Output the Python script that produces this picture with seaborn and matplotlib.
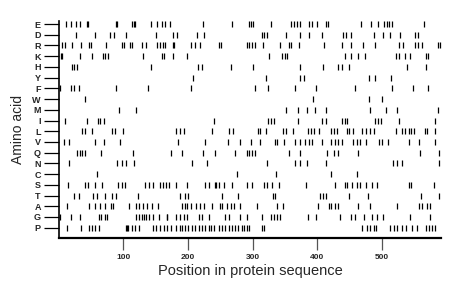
import matplotlib
matplotlib.use("Agg")
import matplotlib.pyplot as plt
import seaborn as sns
import pandas as pd

# amino acids, top to bottom
amino_acids = ["E", "D", "R", "K", "H", "Y", "F", "W", "M", "I",
               "L", "V", "Q", "N", "C", "S", "T", "A", "G", "P"]

# residue positions for each amino acid
pos_E = [11, 18, 26, 33, 44, 45, 88, 90, 113, 116, 118, 143, 152, 159, 165, 172, 223, 268,
         295, 298, 300, 328, 360, 364, 369, 374, 387, 392, 400, 414, 417, 468, 484, 494,
         504, 508, 512, 516, 565]
pos_D = [27, 56, 79, 86, 104, 150, 176, 183, 214, 225, 314, 317, 322, 352, 373, 388, 407,
         440, 444, 452, 488, 502, 513, 529, 552, 556]
pos_R = [5, 9, 20, 35, 47, 50, 73, 97, 101, 110, 113, 128, 135, 152, 156, 161, 165, 176,
         179, 204, 211, 218, 248, 251, 291, 295, 299, 304, 316, 342, 356, 360, 372, 410,
         439, 453, 471, 489, 527, 533, 552, 556, 562, 587, 591]
pos_K = [4, 5, 32, 51, 68, 72, 76, 130, 159, 163, 177, 199, 326, 346, 350, 353, 443, 453,
         464, 474, 522, 526, 536, 543, 568, 572]
pos_H = [21, 24, 28, 142, 216, 222, 266, 300, 374, 409, 433, 439, 450, 539, 569]
pos_Y = [208, 321, 373, 379, 480, 490, 515]
pos_F = [1, 18, 24, 31, 89, 138, 205, 303, 324, 365, 398, 459, 516, 548, 572]
pos_W = [40, 393, 481, 500]
pos_M = [93, 119, 352, 370, 384, 397, 413, 482, 506, 524, 587]
pos_I = [10, 44, 60, 64, 70, 240, 324, 328, 333, 370, 407, 413, 439, 443, 446, 489, 494,
         499, 527, 582]
pos_L = [36, 41, 52, 83, 87, 99, 182, 188, 193, 237, 263, 269, 309, 312, 321, 347, 352,
         362, 386, 390, 395, 403, 422, 426, 431, 446, 450, 455, 470, 476, 482, 488, 522,
         531, 536, 542, 545, 550, 567, 570, 583]
pos_V = [8, 15, 56, 70, 94, 185, 226, 262, 281, 298, 312, 334, 338, 348, 366, 373, 381,
         388, 392, 408, 422, 427, 433, 438, 455, 462, 467, 475, 496, 501, 510, 542, 557, 582]
pos_Q = [28, 32, 36, 40, 65, 115, 173, 190, 223, 242, 273, 292, 295, 299, 304, 356, 374,
         415, 426, 433, 464, 560, 588]
pos_N = [15, 90, 97, 104, 116, 206, 230, 323, 365, 374, 384, 413, 517, 524, 531, 588]
pos_C = [59, 276, 336, 421, 462]
pos_S = [14, 40, 45, 56, 67, 92, 97, 102, 134, 139, 146, 156, 161, 166, 171, 182, 199, 226,
         233, 242, 243, 248, 256, 268, 292, 299, 317, 323, 330, 341, 383, 428, 443, 446,
         454, 462, 467, 475, 485, 493, 542, 545, 581]
pos_T = [23, 31, 53, 59, 72, 82, 89, 123, 187, 196, 200, 252, 278, 331, 335, 405, 409, 413,
         449, 479, 561, 588]
pos_A = [13, 47, 56, 64, 72, 80, 84, 109, 119, 124, 130, 137, 144, 154, 191, 195, 199, 205,
         212, 218, 224, 237, 249, 253, 261, 266, 271, 280, 307, 338, 347, 401, 418, 422,
         427, 433, 463, 482, 524, 557, 562, 570, 575]
pos_G = [2, 18, 32, 62, 66, 71, 75, 119, 124, 128, 132, 135, 139, 145, 155, 167, 168, 182,
         188, 193, 199, 217, 222, 233, 258, 263, 281, 292, 315, 328, 333, 338, 343, 386,
         398, 436, 452, 459, 472, 485, 493, 502, 544, 575]
pos_P = [13, 34, 46, 52, 56, 62, 104, 106, 107, 113, 118, 124, 145, 150, 157, 163, 168, 173,
         181, 187, 191, 196, 200, 206, 211, 217, 222, 227, 232, 236, 241, 248, 253, 258,
         263, 268, 273, 277, 284, 286, 292, 295, 314, 317, 470, 477, 482, 488, 491, 513,
         519, 524, 531, 538, 547, 555, 568, 573, 578, 583]

positions = {
    "E": pos_E, "D": pos_D, "R": pos_R, "K": pos_K, "H": pos_H, "Y": pos_Y,
    "F": pos_F, "W": pos_W, "M": pos_M, "I": pos_I, "L": pos_L, "V": pos_V,
    "Q": pos_Q, "N": pos_N, "C": pos_C, "S": pos_S, "T": pos_T, "A": pos_A,
    "G": pos_G, "P": pos_P,
}
x_ticks = [100, 200, 300, 400, 500]
seq_len = 592

rows = []
for aa in amino_acids:
    for p in positions[aa]:
        rows.append({"position": p, "aa": aa})
df = pd.DataFrame(rows)

sns.set_style("white")
plt.rcParams["font.family"] = ["Liberation Sans", "DejaVu Sans"]

fig = plt.figure(figsize=(4.6, 2.99), dpi=100)
ax = fig.add_axes([0.128, 0.204, 0.831, 0.7264])

sns.stripplot(data=df, x="position", y="aa", order=amino_acids, jitter=False,
              marker="|", size=4.6, linewidth=0.9, color="black", edgecolor="black",
              ax=ax)

ax.set_xlim(0, seq_len)
ax.set_ylim(19.96, -0.3)
ax.set_xticks(x_ticks)
ax.set_xticklabels([str(t) for t in x_ticks], fontsize=6, fontweight="bold")
ax.set_yticks(range(len(amino_acids)))
ax.set_yticklabels(amino_acids, fontsize=6.5, fontweight="bold")

for side in ["top", "right"]:
    ax.spines[side].set_visible(False)
ax.spines["left"].set_color("black")
ax.spines["bottom"].set_color("black")
ax.spines["left"].set_linewidth(1.2)
ax.spines["bottom"].set_linewidth(1.6)

ax.tick_params(axis="x", direction="out", length=8.5, width=0.9, color="#555555", pad=3)
ax.tick_params(axis="y", direction="out", length=11, width=0.9, color="black", pad=2)
ax.xaxis.set_ticks_position("bottom")
ax.yaxis.set_ticks_position("left")

ax.set_xlabel("Position in protein sequence", fontsize=10.5, labelpad=2)
ax.set_ylabel("Amino acid", fontsize=10, labelpad=5)

plt.savefig("out.png", dpi=100)
